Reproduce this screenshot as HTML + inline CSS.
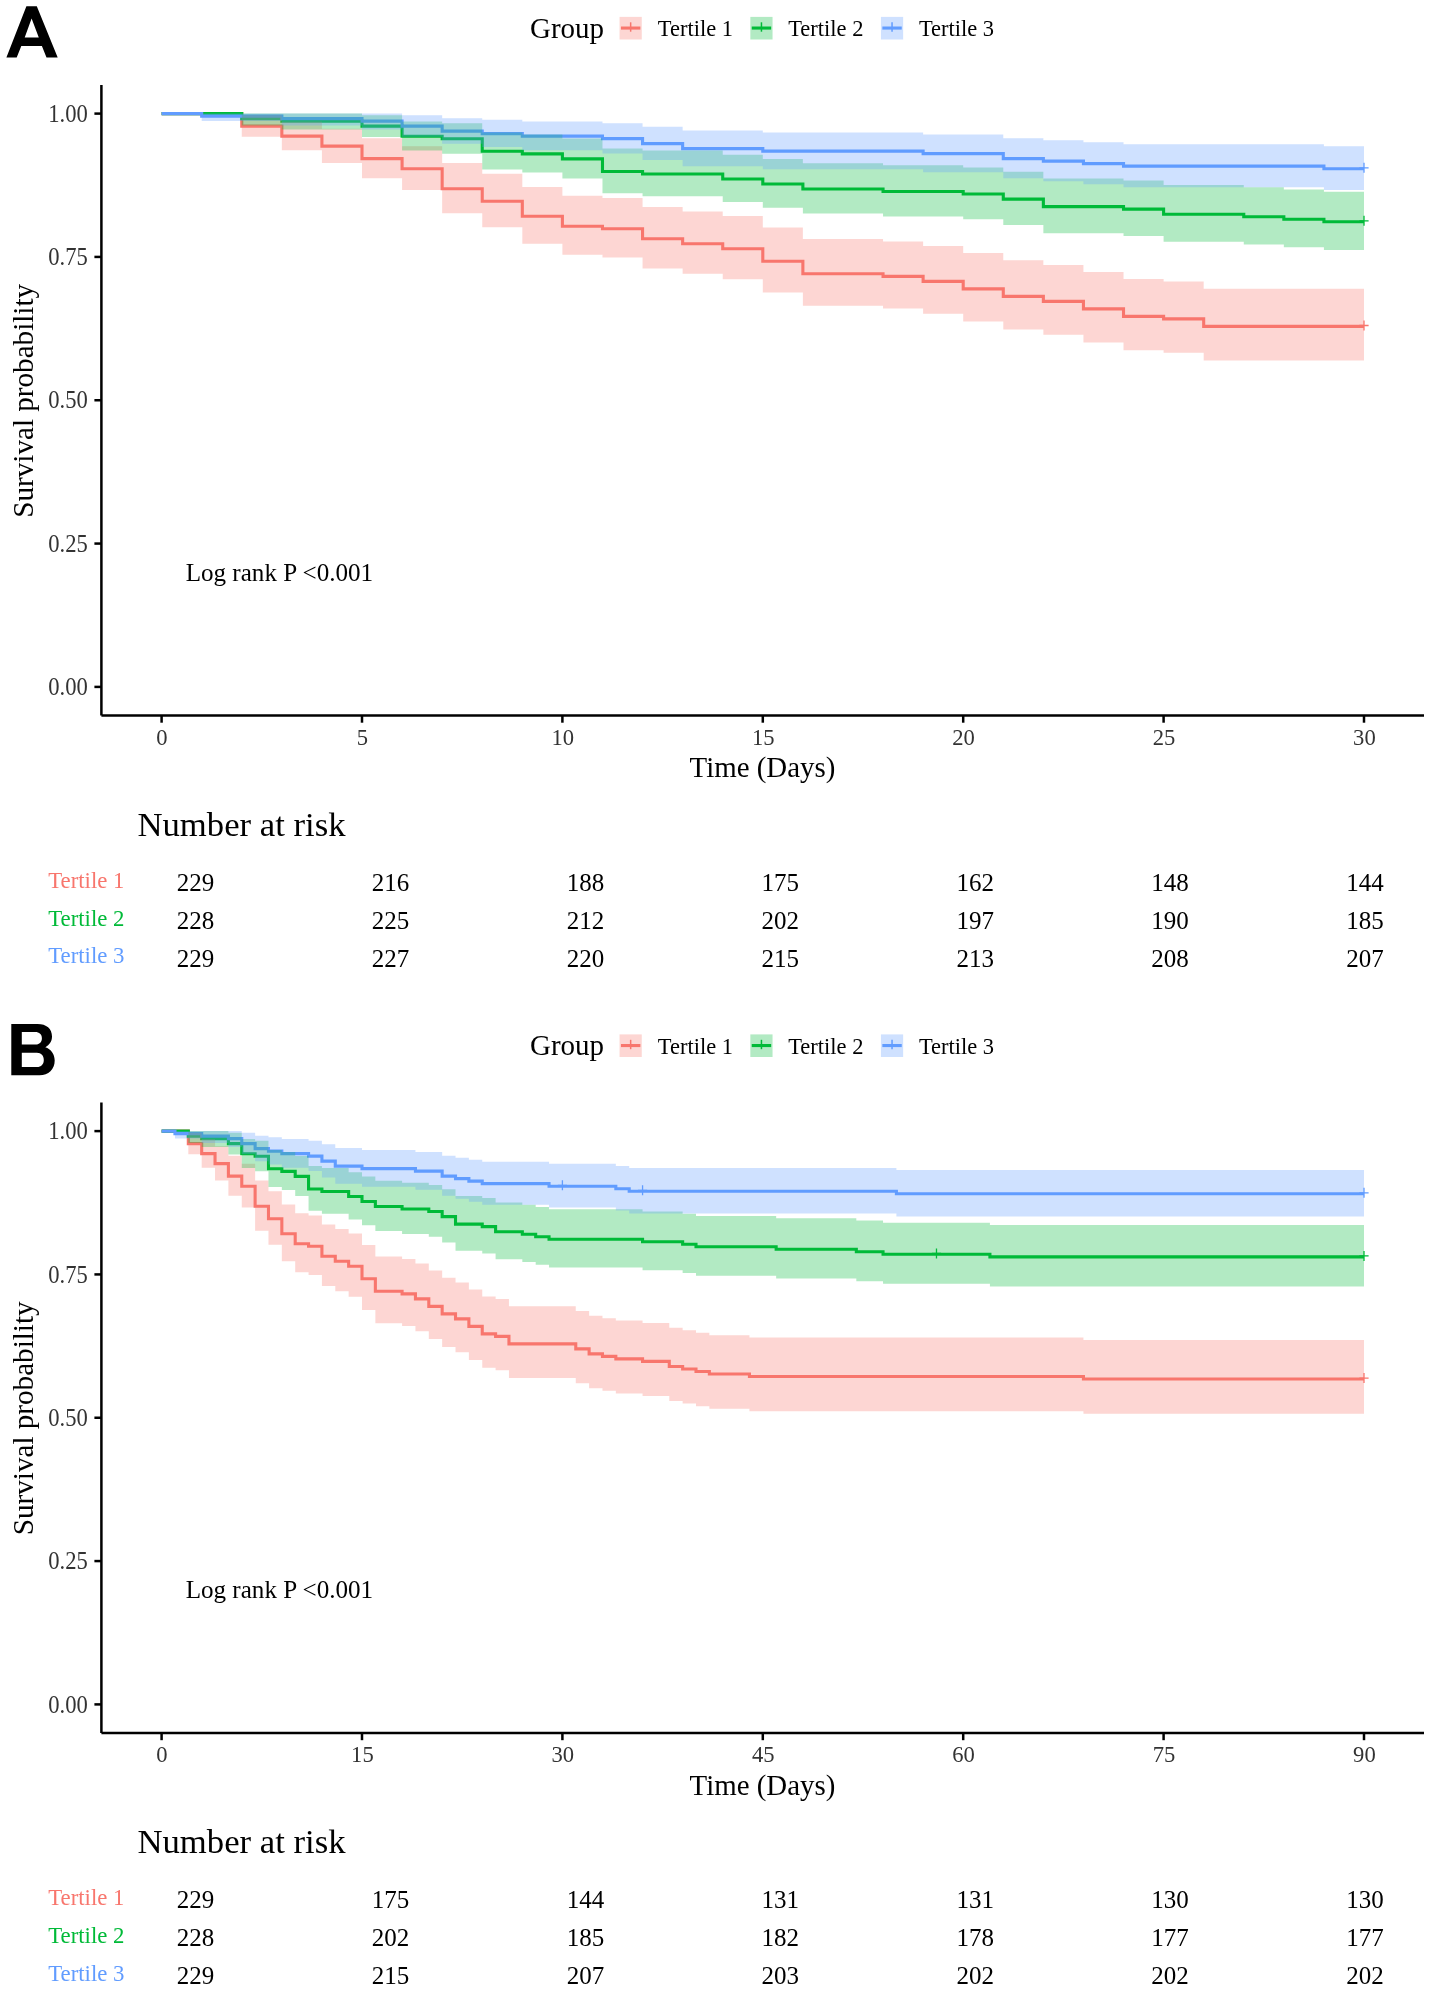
<!DOCTYPE html>
<html><head><meta charset="utf-8"><style>
html,body{margin:0;padding:0;background:#fff;}
svg{display:block;will-change:transform;}
text{font-family:"Liberation Serif",serif;}
.tk{font-size:22.6px;fill:#333;}
.ttl{font-size:28.9px;fill:#000;}
.gp{font-size:29px;fill:#000;}
.lg{font-size:22.5px;fill:#000;}
.lr{font-size:25.1px;fill:#000;}
.nar{font-size:34.7px;fill:#000;}
.rl{font-size:22.8px;}
.rn{font-size:25px;fill:#000;}
.pl{font-family:"Liberation Sans",sans-serif;font-weight:bold;font-size:74px;fill:#000;}
</style></head><body>
<svg width="1430" height="1991" viewBox="0 0 1430 1991">

<path d="M6.4,57.4L26.4,6.3H36.8L57.7,57.4H46.5L41.9,46.0H21.3L16.7,57.4ZM24.7,37.5H38.8L31.6,18.6Z" fill="#000" fill-rule="evenodd"/>
<g id="A">
<text transform="translate(530.0,37.8) scale(1,1.05)" class="gp">Group</text>
<rect x="619.55" y="16.9" width="22.2" height="22.6" fill="#F8766D" fill-opacity="0.3"/>
<path d="M620.95,28.05H640.35" stroke="#F8766D" stroke-width="3.1"/>
<path d="M630.65,22.3V31.7" stroke="#F8766D" stroke-width="1.5"/>
<text transform="translate(657.8,36.0) scale(1,1.05)" class="lg">Tertile 1</text>
<rect x="750.35" y="16.9" width="22.2" height="22.6" fill="#00BA38" fill-opacity="0.3"/>
<path d="M751.75,28.05H771.15" stroke="#00BA38" stroke-width="3.1"/>
<path d="M761.45,22.3V31.7" stroke="#00BA38" stroke-width="1.5"/>
<text transform="translate(788.2,36.0) scale(1,1.05)" class="lg">Tertile 2</text>
<rect x="880.95" y="16.9" width="22.2" height="22.6" fill="#619CFF" fill-opacity="0.3"/>
<path d="M882.35,28.05H901.75" stroke="#619CFF" stroke-width="3.1"/>
<path d="M892.05,22.3V31.7" stroke="#619CFF" stroke-width="1.5"/>
<text transform="translate(918.9,36.0) scale(1,1.05)" class="lg">Tertile 3</text>
<path d="M161.6,113.6H241.76V126.12H281.84V136.13H321.92V146.15H362V158.66H402.08V168.68H442.16V188.7H482.24V201.22H522.32V216.24H562.4V226.26H602.48V228.76H642.56V238.77H682.64V243.78H722.72V248.79H762.8V261.31H802.88V273.82H883.04V276.33H923.12V281.33H963.2V288.84H1003.28V296.36H1043.36V301.36H1083.44V308.87H1123.52V316.38H1163.6V318.89H1203.68V326.4H1364" fill="none" stroke="#F8766D" stroke-width="3.1" stroke-linejoin="miter" stroke-linecap="butt"/>
<path d="M161.6,113.6H241.76V118.63H281.84V121.14H362V126.17H402.08V136.23H442.16V138.74H482.24V151.32H522.32V153.83H562.4V158.86H602.48V171.43H642.56V173.95H722.72V178.98H762.8V184.01H802.88V189.03H883.04V191.55H963.2V194.06H1003.28V199.09H1043.36V206.64H1123.52V209.15H1163.6V214.18H1243.76V216.69H1283.84V219.21H1323.92V221.72H1364" fill="none" stroke="#00BA38" stroke-width="3.1" stroke-linejoin="miter" stroke-linecap="butt"/>
<path d="M161.6,113.6H201.68V116.1H281.84V118.61H362V121.11H402.08V126.12H442.16V131.12H482.24V133.63H522.32V136.13H602.48V138.63H642.56V143.64H682.64V148.65H762.8V151.15H923.12V153.66H1003.28V158.66H1043.36V161.17H1083.44V163.67H1123.52V166.17H1323.92V168.68H1364" fill="none" stroke="#619CFF" stroke-width="3.1" stroke-linejoin="miter" stroke-linecap="butt"/>
<path d="M161.6,113.6H241.76V115.16H281.84V121.51H321.92V128.69H362V138.3H402.08V146.33H442.16V163.01H482.24V173.75H522.32V186.9H562.4V195.79H602.48V198.02H642.56V207.02H682.64V211.56H722.72V216.11H762.8V227.56H802.88V239.12H883.04V241.45H923.12V246.11H963.2V253.12H1003.28V260.17H1043.36V264.89H1083.44V271.99H1123.52V279.12H1163.6V281.51H1203.68V288.68H1364V360.54H1203.68V352.82H1163.6V350.24H1123.52V342.47H1083.44V334.68H1043.36V329.47H1003.28V321.62H963.2V313.75H923.12V308.48H883.04V305.84H802.88V292.57H762.8V279.2H722.72V273.82H682.64V268.42H642.56V257.57H602.48V254.84H562.4V243.87H522.32V227.22H482.24V213.14H442.16V190.1H402.08V178.27H362V163.06H321.92V150.37H281.84V136.86H241.76V113.6H161.6Z" fill="#F8766D" fill-opacity="0.3" stroke="none"/>
<path d="M161.6,113.6H241.76V113.6H281.84V113.6H362V115.17H402.08V121.55H442.16V123.29H482.24V132.55H522.32V134.48H562.4V138.41H602.48V148.53H642.56V150.59H722.72V154.76H762.8V158.98H802.88V163.23H883.04V165.37H963.2V167.52H1003.28V171.85H1043.36V178.4H1123.52V180.6H1163.6V185.01H1243.76V187.23H1283.84V189.45H1323.92V191.68H1364V249.94H1323.92V247.18H1283.84V244.42H1243.76V241.65H1163.6V236.09H1123.52V233.3H1043.36V224.89H1003.28V219.25H963.2V216.41H883.04V213.56H802.88V207.85H762.8V202.09H722.72V196.28H642.56V193.36H602.48V178.55H562.4V172.51H522.32V169.45H482.24V153.77H442.16V150.53H402.08V136.97H362V129.56H281.84V125.53H241.76V113.6H161.6Z" fill="#00BA38" fill-opacity="0.3" stroke="none"/>
<path d="M161.6,113.6H201.68V113.6H281.84V113.6H362V113.6H402.08V115.16H442.16V118.19H482.24V119.82H522.32V121.51H602.48V123.25H642.56V126.84H682.64V130.56H762.8V132.46H923.12V134.39H1003.28V138.3H1043.36V140.28H1083.44V142.28H1123.52V144.3H1323.92V146.33H1364V190.1H1323.92V187.17H1123.52V184.22H1083.44V181.25H1043.36V178.27H1003.28V172.25H923.12V169.21H762.8V166.15H682.64V159.94H642.56V153.6H602.48V150.37H522.32V147.1H482.24V143.76H442.16V136.86H402.08V129.49H362V125.47H281.84V120.98H201.68V113.6H161.6Z" fill="#619CFF" fill-opacity="0.3" stroke="none"/>
<path d="M1359.4,325.5H1368.6M1364,320.5V330.5" stroke="#F8766D" stroke-width="1.3" fill="none"/>
<path d="M1359.4,220.82H1368.6M1364,215.82V225.82" stroke="#00BA38" stroke-width="1.3" fill="none"/>
<path d="M1359.4,167.78H1368.6M1364,162.78V172.78" stroke="#619CFF" stroke-width="1.3" fill="none"/>
<path d="M101.4,85V715.6" stroke="#000" stroke-width="2.5" fill="none"/>
<path d="M101.4,715.6H1424" stroke="#000" stroke-width="2.5" fill="none"/>
<path d="M94.4,113.6H101.4" stroke="#000" stroke-width="2.5"/>
<text transform="translate(87.8,121.75) scale(1,1.07)" class="tk" text-anchor="end">1.00</text>
<path d="M94.4,256.92H101.4" stroke="#000" stroke-width="2.5"/>
<text transform="translate(87.8,265.07) scale(1,1.07)" class="tk" text-anchor="end">0.75</text>
<path d="M94.4,400.25H101.4" stroke="#000" stroke-width="2.5"/>
<text transform="translate(87.8,408.4) scale(1,1.07)" class="tk" text-anchor="end">0.50</text>
<path d="M94.4,543.57H101.4" stroke="#000" stroke-width="2.5"/>
<text transform="translate(87.8,551.72) scale(1,1.07)" class="tk" text-anchor="end">0.25</text>
<path d="M94.4,686.9H101.4" stroke="#000" stroke-width="2.5"/>
<text transform="translate(87.8,695.05) scale(1,1.07)" class="tk" text-anchor="end">0.00</text>
<path d="M161.6,715.6V722.7" stroke="#000" stroke-width="2.5"/>
<text transform="translate(162,744.6) scale(1,1.04)" class="tk" text-anchor="middle">0</text>
<path d="M362,715.6V722.7" stroke="#000" stroke-width="2.5"/>
<text transform="translate(362.4,744.6) scale(1,1.04)" class="tk" text-anchor="middle">5</text>
<path d="M562.4,715.6V722.7" stroke="#000" stroke-width="2.5"/>
<text transform="translate(562.8,744.6) scale(1,1.04)" class="tk" text-anchor="middle">10</text>
<path d="M762.8,715.6V722.7" stroke="#000" stroke-width="2.5"/>
<text transform="translate(763.2,744.6) scale(1,1.04)" class="tk" text-anchor="middle">15</text>
<path d="M963.2,715.6V722.7" stroke="#000" stroke-width="2.5"/>
<text transform="translate(963.6,744.6) scale(1,1.04)" class="tk" text-anchor="middle">20</text>
<path d="M1163.6,715.6V722.7" stroke="#000" stroke-width="2.5"/>
<text transform="translate(1164,744.6) scale(1,1.04)" class="tk" text-anchor="middle">25</text>
<path d="M1364,715.6V722.7" stroke="#000" stroke-width="2.5"/>
<text transform="translate(1364.4,744.6) scale(1,1.04)" class="tk" text-anchor="middle">30</text>
<text transform="translate(33.2,400.8) rotate(-90) scale(1,1.04)" class="ttl" style="font-size:29.15px" text-anchor="middle">Survival probability</text>
<text x="762.4" y="777.4" class="ttl" text-anchor="middle">Time (Days)</text>
<text x="185.65" y="580.6" class="lr">Log rank P &lt;0.001</text>
<text x="137.45" y="835.5" class="nar">Number at risk</text>
<text x="48.2" y="887.8" class="rl" fill="#F8766D">Tertile 1</text>
<text x="195.6" y="890.8" class="rn" text-anchor="middle">229</text>
<text x="390.5" y="890.8" class="rn" text-anchor="middle">216</text>
<text x="585.4" y="890.8" class="rn" text-anchor="middle">188</text>
<text x="780.3" y="890.8" class="rn" text-anchor="middle">175</text>
<text x="975.2" y="890.8" class="rn" text-anchor="middle">162</text>
<text x="1170.1" y="890.8" class="rn" text-anchor="middle">148</text>
<text x="1365" y="890.8" class="rn" text-anchor="middle">144</text>
<text x="48.2" y="925.6" class="rl" fill="#00BA38">Tertile 2</text>
<text x="195.6" y="928.7" class="rn" text-anchor="middle">228</text>
<text x="390.5" y="928.7" class="rn" text-anchor="middle">225</text>
<text x="585.4" y="928.7" class="rn" text-anchor="middle">212</text>
<text x="780.3" y="928.7" class="rn" text-anchor="middle">202</text>
<text x="975.2" y="928.7" class="rn" text-anchor="middle">197</text>
<text x="1170.1" y="928.7" class="rn" text-anchor="middle">190</text>
<text x="1365" y="928.7" class="rn" text-anchor="middle">185</text>
<text x="48.2" y="963.4" class="rl" fill="#619CFF">Tertile 3</text>
<text x="195.6" y="966.5" class="rn" text-anchor="middle">229</text>
<text x="390.5" y="966.5" class="rn" text-anchor="middle">227</text>
<text x="585.4" y="966.5" class="rn" text-anchor="middle">220</text>
<text x="780.3" y="966.5" class="rn" text-anchor="middle">215</text>
<text x="975.2" y="966.5" class="rn" text-anchor="middle">213</text>
<text x="1170.1" y="966.5" class="rn" text-anchor="middle">208</text>
<text x="1365" y="966.5" class="rn" text-anchor="middle">207</text>
</g>
<path d="M11.3,1023.9H37.5C46.5,1023.9 52.0,1028.5 52.0,1036.6C52.0,1041.5 49.5,1045.0 45.3,1047.2C51.0,1049.2 54.7,1053.8 54.7,1060.6C54.7,1069.5 48.5,1075.3 39.5,1075.3H11.3ZM21.8,1032.1H35.2C39.3,1032.1 41.9,1034.4 41.9,1038.3C41.9,1042.3 39.3,1044.6 35.2,1044.6H21.8ZM21.8,1052.8H36.9C41.3,1052.8 43.8,1055.7 43.8,1059.9C43.8,1064.2 41.3,1066.9 36.9,1066.9H21.8Z" fill="#000" fill-rule="evenodd"/>
<g transform="translate(0,1017.5)">
<text transform="translate(530.0,37.8) scale(1,1.05)" class="gp">Group</text>
<rect x="619.55" y="16.9" width="22.2" height="22.6" fill="#F8766D" fill-opacity="0.3"/>
<path d="M620.95,28.05H640.35" stroke="#F8766D" stroke-width="3.1"/>
<path d="M630.65,22.3V31.7" stroke="#F8766D" stroke-width="1.5"/>
<text transform="translate(657.8,36.0) scale(1,1.05)" class="lg">Tertile 1</text>
<rect x="750.35" y="16.9" width="22.2" height="22.6" fill="#00BA38" fill-opacity="0.3"/>
<path d="M751.75,28.05H771.15" stroke="#00BA38" stroke-width="3.1"/>
<path d="M761.45,22.3V31.7" stroke="#00BA38" stroke-width="1.5"/>
<text transform="translate(788.2,36.0) scale(1,1.05)" class="lg">Tertile 2</text>
<rect x="880.95" y="16.9" width="22.2" height="22.6" fill="#619CFF" fill-opacity="0.3"/>
<path d="M882.35,28.05H901.75" stroke="#619CFF" stroke-width="3.1"/>
<path d="M892.05,22.3V31.7" stroke="#619CFF" stroke-width="1.5"/>
<text transform="translate(918.9,36.0) scale(1,1.05)" class="lg">Tertile 3</text>
<path d="M161.6,113.6H188.32V126.12H201.68V136.13H215.04V146.15H228.4V158.66H241.76V168.68H255.12V188.7H268.48V201.22H281.84V216.24H295.2V226.26H308.56V228.76H321.92V238.77H335.28V243.78H348.64V248.79H362V261.31H375.36V273.82H402.08V276.33H415.44V281.33H428.8V288.84H442.16V296.36H455.52V301.36H468.88V308.87H482.24V316.38H495.6V318.89H508.96V326.4H575.76V331.4H589.12V336.41H602.48V338.91H615.84V341.42H642.56V343.92H669.28V348.93H682.64V351.43H696V353.94H709.36V356.44H749.44V358.94H1083.44V361.45H1364" fill="none" stroke="#F8766D" stroke-width="3.1" stroke-linejoin="miter" stroke-linecap="butt"/>
<path d="M161.6,113.6H188.32V118.63H201.68V121.14H228.4V126.17H241.76V136.23H255.12V138.74H268.48V151.32H281.84V153.83H295.2V158.86H308.56V171.43H321.92V173.95H348.64V178.98H362V184.01H375.36V189.03H402.08V191.55H428.8V194.06H442.16V199.09H455.52V206.64H482.24V209.15H495.6V214.18H522.32V216.69H535.68V219.21H549.04V221.72H642.56V224.24H682.64V226.75H696V229.27H776.16V231.78H856.32V234.29H883.04V236.81H989.92V239.34H1364" fill="none" stroke="#00BA38" stroke-width="3.1" stroke-linejoin="miter" stroke-linecap="butt"/>
<path d="M161.6,113.6H174.96V116.1H201.68V118.61H228.4V121.11H241.76V126.12H255.12V131.12H268.48V133.63H281.84V136.13H308.56V138.63H321.92V143.64H335.28V148.65H362V151.15H415.44V153.66H442.16V158.66H455.52V161.17H468.88V163.67H482.24V166.17H549.04V168.68H615.84V171.19H629.2V173.71H896.4V176.24H1364" fill="none" stroke="#619CFF" stroke-width="3.1" stroke-linejoin="miter" stroke-linecap="butt"/>
<path d="M161.6,113.6H188.32V115.16H201.68V121.51H215.04V128.69H228.4V138.3H241.76V146.33H255.12V163.01H268.48V173.75H281.84V186.9H295.2V195.79H308.56V198.02H321.92V207.02H335.28V211.56H348.64V216.11H362V227.56H375.36V239.12H402.08V241.45H415.44V246.11H428.8V253.12H442.16V260.17H455.52V264.89H468.88V271.99H482.24V279.12H495.6V281.51H508.96V288.68H575.76V293.47H589.12V298.28H602.48V300.69H615.84V303.1H642.56V305.52H669.28V310.35H682.64V312.78H696V315.2H709.36V317.63H749.44V320.07H1083.44V322.5H1364V396.23H1083.44V393.7H749.44V391.17H709.36V388.63H696V386.09H682.64V383.55H669.28V378.46H642.56V375.91H615.84V373.36H602.48V370.8H589.12V365.68H575.76V360.54H508.96V352.82H495.6V350.24H482.24V342.47H468.88V334.68H455.52V329.47H442.16V321.62H428.8V313.75H415.44V308.48H402.08V305.84H375.36V292.57H362V279.2H348.64V273.82H335.28V268.42H321.92V257.57H308.56V254.84H295.2V243.87H281.84V227.22H268.48V213.14H255.12V190.1H241.76V178.27H228.4V163.06H215.04V150.37H201.68V136.86H188.32V113.6H161.6Z" fill="#F8766D" fill-opacity="0.3" stroke="none"/>
<path d="M161.6,113.6H188.32V113.6H201.68V113.6H228.4V115.17H241.76V121.55H255.12V123.29H268.48V132.55H281.84V134.48H295.2V138.41H308.56V148.53H321.92V150.59H348.64V154.76H362V158.98H375.36V163.23H402.08V165.37H428.8V167.52H442.16V171.85H455.52V178.4H482.24V180.6H495.6V185.01H522.32V187.23H535.68V189.45H549.04V191.68H642.56V193.92H682.64V196.16H696V198.41H776.16V200.66H856.32V202.92H883.04V205.18H989.92V207.46H1364V269.1H989.92V266.36H883.04V263.64H856.32V260.91H776.16V258.18H696V255.44H682.64V252.69H642.56V249.94H549.04V247.18H535.68V244.42H522.32V241.65H495.6V236.09H482.24V233.3H455.52V224.89H442.16V219.25H428.8V216.41H402.08V213.56H375.36V207.85H362V202.09H348.64V196.28H321.92V193.36H308.56V178.55H295.2V172.51H281.84V169.45H268.48V153.77H255.12V150.53H241.76V136.97H228.4V129.56H201.68V125.53H188.32V113.6H161.6Z" fill="#00BA38" fill-opacity="0.3" stroke="none"/>
<path d="M161.6,113.6H174.96V113.6H201.68V113.6H228.4V113.6H241.76V115.16H255.12V118.19H268.48V119.82H281.84V121.51H308.56V123.25H321.92V126.84H335.28V130.56H362V132.46H415.44V134.39H442.16V138.3H455.52V140.28H468.88V142.28H482.24V144.3H549.04V146.33H615.84V148.38H629.2V150.44H896.4V152.53H1364V198.89H896.4V195.96H629.2V193.04H615.84V190.1H549.04V187.17H482.24V184.22H468.88V181.25H455.52V178.27H442.16V172.25H415.44V169.21H362V166.15H335.28V159.94H321.92V153.6H308.56V150.37H281.84V147.1H268.48V143.76H255.12V136.86H241.76V129.49H228.4V125.47H201.68V120.98H174.96V113.6H161.6Z" fill="#619CFF" fill-opacity="0.3" stroke="none"/>
<path d="M1359.4,360.55H1368.6M1364,355.55V365.55" stroke="#F8766D" stroke-width="1.3" fill="none"/>
<path d="M931.88,235.91H941.08M936.48,230.91V240.91" stroke="#00BA38" stroke-width="1.3" fill="none"/>
<path d="M1359.4,238.44H1368.6M1364,233.44V243.44" stroke="#00BA38" stroke-width="1.3" fill="none"/>
<path d="M557.8,167.78H567M562.4,162.78V172.78" stroke="#619CFF" stroke-width="1.3" fill="none"/>
<path d="M637.96,172.81H647.16M642.56,167.81V177.81" stroke="#619CFF" stroke-width="1.3" fill="none"/>
<path d="M1359.4,175.34H1368.6M1364,170.34V180.34" stroke="#619CFF" stroke-width="1.3" fill="none"/>
<path d="M101.4,85V715.6" stroke="#000" stroke-width="2.5" fill="none"/>
<path d="M101.4,715.6H1424" stroke="#000" stroke-width="2.5" fill="none"/>
<path d="M94.4,113.6H101.4" stroke="#000" stroke-width="2.5"/>
<text transform="translate(87.8,121.75) scale(1,1.07)" class="tk" text-anchor="end">1.00</text>
<path d="M94.4,256.92H101.4" stroke="#000" stroke-width="2.5"/>
<text transform="translate(87.8,265.07) scale(1,1.07)" class="tk" text-anchor="end">0.75</text>
<path d="M94.4,400.25H101.4" stroke="#000" stroke-width="2.5"/>
<text transform="translate(87.8,408.4) scale(1,1.07)" class="tk" text-anchor="end">0.50</text>
<path d="M94.4,543.57H101.4" stroke="#000" stroke-width="2.5"/>
<text transform="translate(87.8,551.72) scale(1,1.07)" class="tk" text-anchor="end">0.25</text>
<path d="M94.4,686.9H101.4" stroke="#000" stroke-width="2.5"/>
<text transform="translate(87.8,695.05) scale(1,1.07)" class="tk" text-anchor="end">0.00</text>
<path d="M161.6,715.6V722.7" stroke="#000" stroke-width="2.5"/>
<text transform="translate(162,744.6) scale(1,1.04)" class="tk" text-anchor="middle">0</text>
<path d="M362,715.6V722.7" stroke="#000" stroke-width="2.5"/>
<text transform="translate(362.4,744.6) scale(1,1.04)" class="tk" text-anchor="middle">15</text>
<path d="M562.4,715.6V722.7" stroke="#000" stroke-width="2.5"/>
<text transform="translate(562.8,744.6) scale(1,1.04)" class="tk" text-anchor="middle">30</text>
<path d="M762.8,715.6V722.7" stroke="#000" stroke-width="2.5"/>
<text transform="translate(763.2,744.6) scale(1,1.04)" class="tk" text-anchor="middle">45</text>
<path d="M963.2,715.6V722.7" stroke="#000" stroke-width="2.5"/>
<text transform="translate(963.6,744.6) scale(1,1.04)" class="tk" text-anchor="middle">60</text>
<path d="M1163.6,715.6V722.7" stroke="#000" stroke-width="2.5"/>
<text transform="translate(1164,744.6) scale(1,1.04)" class="tk" text-anchor="middle">75</text>
<path d="M1364,715.6V722.7" stroke="#000" stroke-width="2.5"/>
<text transform="translate(1364.4,744.6) scale(1,1.04)" class="tk" text-anchor="middle">90</text>
<text transform="translate(33.2,400.8) rotate(-90) scale(1,1.04)" class="ttl" style="font-size:29.15px" text-anchor="middle">Survival probability</text>
<text x="762.4" y="777.4" class="ttl" text-anchor="middle">Time (Days)</text>
<text x="185.65" y="580.6" class="lr">Log rank P &lt;0.001</text>
<text x="137.45" y="835.5" class="nar">Number at risk</text>
<text x="48.2" y="887.8" class="rl" fill="#F8766D">Tertile 1</text>
<text x="195.6" y="890.8" class="rn" text-anchor="middle">229</text>
<text x="390.5" y="890.8" class="rn" text-anchor="middle">175</text>
<text x="585.4" y="890.8" class="rn" text-anchor="middle">144</text>
<text x="780.3" y="890.8" class="rn" text-anchor="middle">131</text>
<text x="975.2" y="890.8" class="rn" text-anchor="middle">131</text>
<text x="1170.1" y="890.8" class="rn" text-anchor="middle">130</text>
<text x="1365" y="890.8" class="rn" text-anchor="middle">130</text>
<text x="48.2" y="925.6" class="rl" fill="#00BA38">Tertile 2</text>
<text x="195.6" y="928.7" class="rn" text-anchor="middle">228</text>
<text x="390.5" y="928.7" class="rn" text-anchor="middle">202</text>
<text x="585.4" y="928.7" class="rn" text-anchor="middle">185</text>
<text x="780.3" y="928.7" class="rn" text-anchor="middle">182</text>
<text x="975.2" y="928.7" class="rn" text-anchor="middle">178</text>
<text x="1170.1" y="928.7" class="rn" text-anchor="middle">177</text>
<text x="1365" y="928.7" class="rn" text-anchor="middle">177</text>
<text x="48.2" y="963.4" class="rl" fill="#619CFF">Tertile 3</text>
<text x="195.6" y="966.5" class="rn" text-anchor="middle">229</text>
<text x="390.5" y="966.5" class="rn" text-anchor="middle">215</text>
<text x="585.4" y="966.5" class="rn" text-anchor="middle">207</text>
<text x="780.3" y="966.5" class="rn" text-anchor="middle">203</text>
<text x="975.2" y="966.5" class="rn" text-anchor="middle">202</text>
<text x="1170.1" y="966.5" class="rn" text-anchor="middle">202</text>
<text x="1365" y="966.5" class="rn" text-anchor="middle">202</text>
</g>
</svg>
</body></html>
